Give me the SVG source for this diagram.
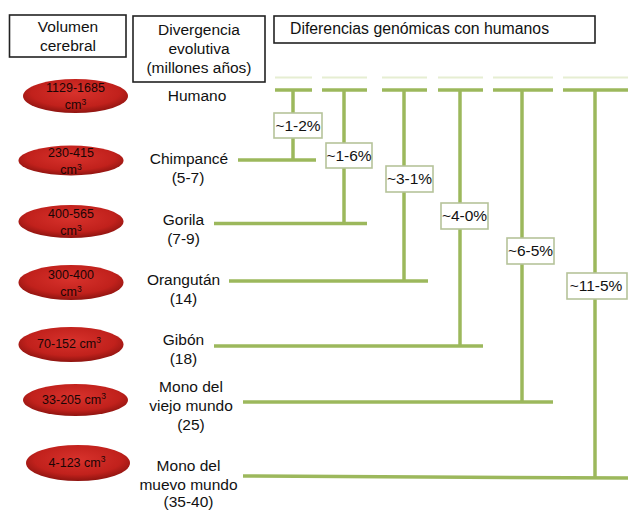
<svg xmlns="http://www.w3.org/2000/svg" width="628" height="511" viewBox="0 0 628 511">
<defs>
<radialGradient id="red" cx="0.5" cy="0.4" r="0.6">
<stop offset="0" stop-color="#d8322c"/>
<stop offset="0.7" stop-color="#c1211c"/>
<stop offset="1" stop-color="#8e1410"/>
</radialGradient>
<style>
text{font-family:"Liberation Sans",Arial,sans-serif;fill:#111}
.hdr{fill:#fff;stroke:#222;stroke-width:1.6}
.h{font-size:15.5px;text-anchor:middle}
.nm{font-size:15.5px;text-anchor:middle}
.el{fill:url(#red)}
.et{font-size:12.5px;text-anchor:middle;fill:#1a0505}
.sup{font-size:8.5px}
.ln{stroke:#9cb85c;stroke-width:3.5;fill:none;stroke-linecap:butt}
.faint{stroke:#e6eed2;stroke-width:2;fill:none}
.pb{fill:#fff;stroke:#b6c39a;stroke-width:1.6}
.pt{font-size:15.5px;text-anchor:middle}
</style>
</defs>
<rect width="628" height="511" fill="#fff"/>

<g id="hdr-volumen">
<rect class="hdr" x="9.5" y="15" width="116.5" height="42"/>
<text class="h" x="68" y="32">Volumen</text>
<text class="h" x="68" y="51">cerebral</text>
</g>
<g id="hdr-divergencia">
<rect class="hdr" x="133" y="16" width="132" height="66"/>
<text class="h" x="199" y="35">Divergencia</text>
<text class="h" x="199" y="54">evolutiva</text>
<text class="h" x="199" y="73">(millones años)</text>
</g>
<g id="hdr-diferencias">
<rect class="hdr" x="274" y="16" width="321" height="27"/>
<text x="290" y="34" style="font-size:15.8px">Diferencias genómicas con humanos</text>
</g>

<g id="connectors">
<g class="faint">
<line x1="275" y1="77.5" x2="312" y2="77.5"/>
<line x1="322" y1="77.5" x2="367" y2="77.5"/>
<line x1="382" y1="77.5" x2="427" y2="77.5"/>
<line x1="438" y1="77.5" x2="483" y2="77.5"/>
<line x1="493" y1="77.5" x2="553" y2="77.5"/>
<line x1="563" y1="77.5" x2="628" y2="77.5"/>
</g>
<g class="ln">
<line x1="275" y1="90" x2="312" y2="90"/>
<line x1="322" y1="90" x2="367" y2="90"/>
<line x1="382" y1="90" x2="427" y2="90"/>
<line x1="438" y1="90" x2="483" y2="90"/>
<line x1="493" y1="90" x2="553" y2="90"/>
<line x1="563" y1="90" x2="628" y2="90"/>
<line x1="293" y1="90" x2="293" y2="160"/>
<line x1="344" y1="90" x2="344" y2="222"/>
<line x1="404" y1="90" x2="404" y2="281"/>
<line x1="460" y1="90" x2="460" y2="346"/>
<line x1="522" y1="90" x2="522" y2="402"/>
<line x1="595" y1="90" x2="595" y2="477"/>
<line x1="238" y1="160" x2="316" y2="160"/>
<line x1="214" y1="223.5" x2="367" y2="223.5"/>
<line x1="229" y1="281" x2="428" y2="281"/>
<line x1="214" y1="346" x2="483" y2="346"/>
<line x1="243" y1="402" x2="553" y2="402"/>
<line x1="243" y1="476" x2="628" y2="478"/>
</g>
</g>

<g id="pct-1-2"><rect class="pb" x="274" y="113" width="48" height="25"/><text class="pt" x="298" y="131">~1-2%</text></g>
<g id="pct-1-6"><rect class="pb" x="326" y="143" width="46" height="25"/><text class="pt" x="349" y="161">~1-6%</text></g>
<g id="pct-3-1"><rect class="pb" x="386" y="166" width="47" height="26"/><text class="pt" x="409.5" y="184">~3-1%</text></g>
<g id="pct-4-0"><rect class="pb" x="441" y="203" width="47" height="26"/><text class="pt" x="464.5" y="221">~4-0%</text></g>
<g id="pct-6-5"><rect class="pb" x="507" y="238" width="47" height="26"/><text class="pt" x="530.5" y="256">~6-5%</text></g>
<g id="pct-11-5"><rect class="pb" x="567" y="273" width="60" height="26"/><text class="pt" x="596" y="291">~11-5%</text></g>

<g id="humano">
<ellipse class="el" cx="75.5" cy="96" rx="52.5" ry="17"/>
<text class="et" x="75.5" y="92">1129-1685</text>
<text class="et" x="75.5" y="109">cm<tspan class="sup" dy="-4.5">3</tspan></text>
<text class="nm" x="197" y="101">Humano</text>
</g>
<g id="chimpance">
<ellipse class="el" cx="71" cy="160.5" rx="52.5" ry="15"/>
<text class="et" x="71" y="157">230-415</text>
<text class="et" x="71" y="174">cm<tspan class="sup" dy="-4.5">3</tspan></text>
<text class="nm" x="189" y="164">Chimpancé</text>
<text class="nm" x="188" y="183">(5-7)</text>
</g>
<g id="gorila">
<ellipse class="el" cx="71" cy="221.5" rx="52.5" ry="16.5"/>
<text class="et" x="71" y="218">400-565</text>
<text class="et" x="71" y="235">cm<tspan class="sup" dy="-4.5">3</tspan></text>
<text class="nm" x="183.5" y="225">Gorila</text>
<text class="nm" x="183.5" y="244">(7-9)</text>
</g>
<g id="orangutan">
<ellipse class="el" cx="71" cy="282.5" rx="52.5" ry="17.5"/>
<text class="et" x="71" y="279">300-400</text>
<text class="et" x="71" y="296">cm<tspan class="sup" dy="-4.5">3</tspan></text>
<text class="nm" x="183.5" y="285">Orangután</text>
<text class="nm" x="183.5" y="304">(14)</text>
</g>
<g id="gibon">
<ellipse class="el" cx="71" cy="344.5" rx="52.5" ry="17.5"/>
<text class="et" x="69" y="348">70-152 cm<tspan class="sup" dy="-5">3</tspan></text>
<text class="nm" x="183.5" y="345">Gibón</text>
<text class="nm" x="183.5" y="364">(18)</text>
</g>
<g id="viejo-mundo">
<ellipse class="el" cx="75.5" cy="400" rx="52.5" ry="16"/>
<text class="et" x="74" y="404">33-205 cm<tspan class="sup" dy="-5">3</tspan></text>
<text class="nm" x="191" y="392">Mono del</text>
<text class="nm" x="191" y="411">viejo mundo</text>
<text class="nm" x="191" y="430">(25)</text>
</g>
<g id="nuevo-mundo">
<ellipse class="el" cx="78" cy="463" rx="52" ry="18"/>
<text class="et" x="77" y="467">4-123 cm<tspan class="sup" dy="-5">3</tspan></text>
<text class="nm" x="188.5" y="471">Mono del</text>
<text class="nm" x="188.5" y="489.5">muevo mundo</text>
<text class="nm" x="188.5" y="507">(35-40)</text>
</g>
</svg>
